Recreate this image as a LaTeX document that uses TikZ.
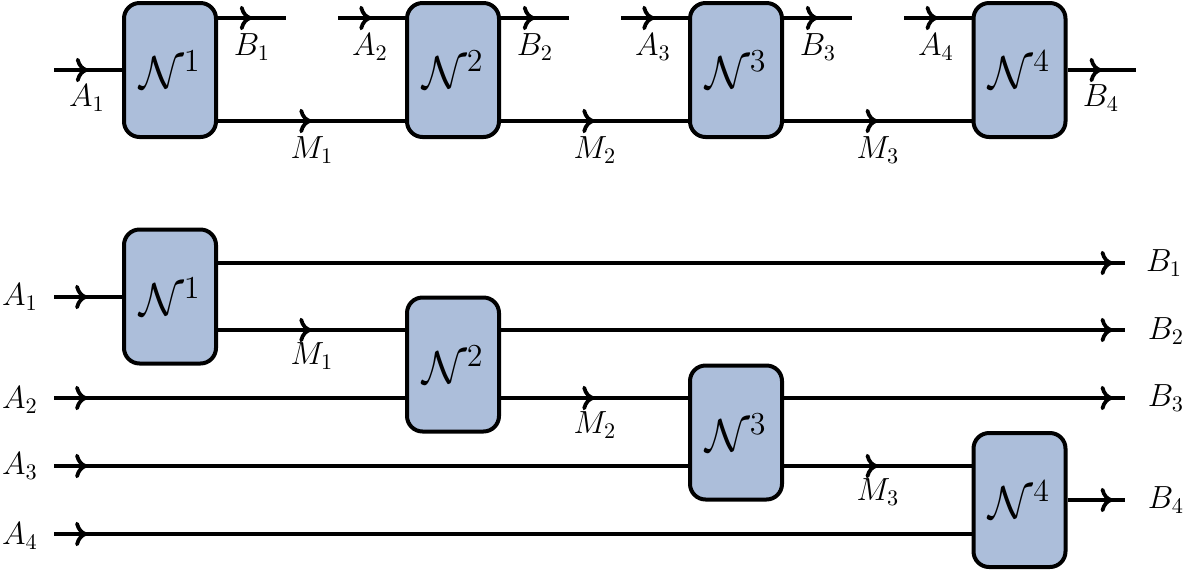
\documentclass[tikz,border=0pt]{standalone}
\usetikzlibrary{decorations.markings,arrows.meta}
\definecolor{boxblue}{RGB}{172,190,218}
\tikzset{
  netbox/.style={draw, line width=1.8pt, rounded corners=7pt, fill=boxblue,
    minimum width=41.4pt, minimum height=60.3pt, inner sep=0pt, font=\huge},
  wire/.style={line width=1.7pt},
  arrowat/.style={postaction={decorate, decoration={markings,
    mark=at position #1 with {\arrow[line width=1.7pt]{Computer Modern Rightarrow[length=5.5pt,width=11pt]}}}}},
  lbl/.style={inner sep=0pt, font=\Large}
}
\begin{document}
\begin{tikzpicture}[x=0.45pt,y=-0.45pt]
\path[use as bounding box] (0,0) rectangle (1188,571);
% ---------- top row ----------
\coordinate (yt) at (0,18);
\coordinate (yb) at (0,121);
\node[netbox] (t1) at (170,70) {$\mathcal{N}^1$};
\node[netbox] (t2) at (453,70) {$\mathcal{N}^2$};
\node[netbox] (t3) at (736,70) {$\mathcal{N}^3$};
\node[netbox] (t4) at (1019.5,70) {$\mathcal{N}^4$};
\coordinate (ta1) at (54,70);
\coordinate (tb1) at (286,18);
\coordinate (ta2) at (338,18);
\coordinate (tb2) at (569,18);
\coordinate (ta3) at (621,18);
\coordinate (tb3) at (852,18);
\coordinate (ta4) at (904,18);
\coordinate (tb4) at (1136,70);
\draw[wire,arrowat=0.5] (ta1) -- (t1.west);
\draw[wire,arrowat=0.5] (t1.east |- yt) -- (tb1);
\draw[wire,arrowat=0.5] (t1.east |- yb) -- (t2.west |- yb);
\draw[wire,arrowat=0.5] (ta2) -- (t2.west |- yt);
\draw[wire,arrowat=0.5] (t2.east |- yt) -- (tb2);
\draw[wire,arrowat=0.5] (t2.east |- yb) -- (t3.west |- yb);
\draw[wire,arrowat=0.5] (ta3) -- (t3.west |- yt);
\draw[wire,arrowat=0.5] (t3.east |- yt) -- (tb3);
\draw[wire,arrowat=0.5] (t3.east |- yb) -- (t4.west |- yb);
\draw[wire,arrowat=0.5] (ta4) -- (t4.west |- yt);
\draw[wire,arrowat=0.5] (t4.east) -- (tb4);
\node[lbl] (lta1) at (87,98) {$A_1$};
\node[lbl] (ltb1) at (252,47) {$B_1$};
\node[lbl] (ltm1) at (312,150) {$M_1$};
\node[lbl] (lta2) at (370,47) {$A_2$};
\node[lbl] (ltb2) at (535,47) {$B_2$};
\node[lbl] (ltm2) at (595,150) {$M_2$};
\node[lbl] (lta3) at (653,47) {$A_3$};
\node[lbl] (ltb3) at (818,47) {$B_3$};
\node[lbl] (ltm3) at (878,150) {$M_3$};
\node[lbl] (lta4) at (936,47) {$A_4$};
\node[lbl] (ltb4) at (1101,98) {$B_4$};
% ---------- bottom row ----------
\node[netbox] (b1) at (170,296.5) {$\mathcal{N}^1$};
\node[netbox] (b2) at (453,364.5) {$\mathcal{N}^2$};
\node[netbox] (b3) at (736,432.5) {$\mathcal{N}^3$};
\node[netbox] (b4) at (1019.5,500) {$\mathcal{N}^4$};
\coordinate (y263) at (0,263);
\coordinate (y297) at (0,297);
\coordinate (y330) at (0,330);
\coordinate (y398) at (0,398);
\coordinate (y466) at (0,466);
\coordinate (y500) at (0,500);
\coordinate (y534) at (0,534);
\coordinate (ba1) at (54,297);
\coordinate (ba2) at (54,398);
\coordinate (ba3) at (54,466);
\coordinate (ba4) at (54,534);
\coordinate (bb1) at (1125,263);
\coordinate (bb2) at (1125,330);
\coordinate (bb3) at (1125,398);
\coordinate (bb4) at (1125,500);
\draw[wire,arrowat=15pt] (ba1) -- (b1.west |- y297);
\draw[wire,arrowat=15pt] (ba2) -- (b2.west |- y398);
\draw[wire,arrowat=15pt] (ba3) -- (b3.west |- y466);
\draw[wire,arrowat=15pt] (ba4) -- (b4.west |- y534);
\draw[wire,arrowat=-5.5pt] (b1.east |- y263) -- (bb1);
\draw[wire,arrowat=-5.5pt] (b2.east |- y330) -- (bb2);
\draw[wire,arrowat=-5.5pt] (b3.east |- y398) -- (bb3);
\draw[wire,arrowat=-5.5pt] (b4.east |- y500) -- (bb4);
\draw[wire,arrowat=0.5] (b1.east |- y330) -- (b2.west |- y330);
\draw[wire,arrowat=0.5] (b2.east |- y398) -- (b3.west |- y398);
\draw[wire,arrowat=0.5] (b3.east |- y466) -- (b4.west |- y466);
\node[lbl] (lba1) at (20,297) {$A_1$};
\node[lbl] (lba2) at (20,400) {$A_2$};
\node[lbl] (lba3) at (20,466) {$A_3$};
\node[lbl] (lba4) at (20,536) {$A_4$};
\node[lbl] (lbb1) at (1164,263) {$B_1$};
\node[lbl] (lbb2) at (1166,331) {$B_2$};
\node[lbl] (lbb3) at (1166,398) {$B_3$};
\node[lbl] (lbb4) at (1166,500) {$B_4$};
\node[lbl] (lbm1) at (312,356) {$M_1$};
\node[lbl] (lbm2) at (595,425) {$M_2$};
\node[lbl] (lbm3) at (878,492) {$M_3$};
\end{tikzpicture}
\end{document}
